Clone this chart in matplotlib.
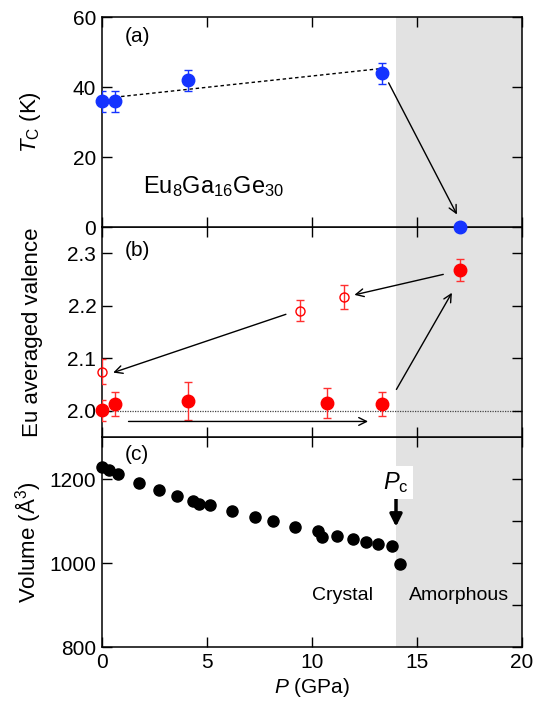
import numpy as np
import matplotlib
matplotlib.use('Agg')
import matplotlib.pyplot as plt
from matplotlib.ticker import FixedLocator, FormatStrFormatter

plt.rcParams['font.family'] = ['Liberation Sans', 'DejaVu Sans']
plt.rcParams['mathtext.fontset'] = 'custom'
plt.rcParams['mathtext.rm'] = 'Liberation Sans'
plt.rcParams['mathtext.it'] = 'Liberation Sans:italic'

# (a) Curie temperature vs pressure
tc_p = [0.0, 0.62, 4.12, 13.32, 17.04]
tc_val = [36, 36, 42, 44, 0]
tc_err = [3, 3, 3, 3, 0]
fit_p = [0.62, 13.32]
fit_tc = [37.1, 45.3]

# (b) Eu averaged valence, filled = compression, open = release
val_p = [0.0, 0.62, 4.12, 10.72, 13.32, 17.04]
val = [2.001, 2.013, 2.019, 2.015, 2.013, 2.268]
val_err = [0.02, 0.023, 0.037, 0.029, 0.023, 0.021]
rel_p = [0.0, 9.41, 11.53]
rel_val = [2.075, 2.191, 2.217]
rel_err = [0.023, 0.02, 0.023]

# (c) unit-cell volume
vol_p = [0.0, 0.34, 0.75, 1.76, 2.71, 3.59, 4.34, 4.61, 5.13, 6.18, 7.27,
         8.15, 9.18, 10.27, 10.48, 11.18, 11.95, 12.57, 13.15, 13.82, 14.18]
vol = [1229, 1223, 1213, 1190, 1174, 1160, 1149, 1141, 1138, 1125, 1110,
       1100, 1087, 1077, 1063, 1065, 1057, 1050, 1045, 1040, 998]

P_C = 14.0
BLUE = '#1433ff'
RED = '#ff0000'
SHADE = '#e2e2e2'

fig = plt.figure(figsize=(5.36, 7.09), dpi=100)
gs = fig.add_gridspec(3, 1, left=0.19, right=0.974, top=0.976, bottom=0.087, hspace=0)
ax_a = fig.add_subplot(gs[0])
ax_b = fig.add_subplot(gs[1], sharex=ax_a)
ax_c = fig.add_subplot(gs[2], sharex=ax_a)
ax_a.set_zorder(3)
ax_b.set_zorder(2)
ax_c.set_zorder(1)

for ax in (ax_a, ax_b, ax_c):
    ax.axvspan(P_C, 20, color=SHADE, lw=0, zorder=0)
    ax.tick_params(direction='in', top=True, right=True, length=7, width=1,
                   labelsize=15, pad=4)
    for s in ax.spines.values():
        s.set_linewidth(1.1)
    ax.yaxis.set_label_coords(-0.14, 0.5)

ax_a.set_xlim(0, 20)
ax_a.set_xticks([0, 5, 10, 15, 20])
ax_a.tick_params(labelbottom=False)
ax_b.tick_params(labelbottom=False)

arrow_thin = dict(arrowstyle='->', lw=1.0, color='k', shrinkA=0, shrinkB=0,
                  mutation_scale=14)

# --- (a)
ax_a.plot(fit_p, fit_tc, color='k', lw=1.0, ls=(0, (2.5, 2)), zorder=2)
eb = ax_a.errorbar(tc_p, tc_val, yerr=tc_err, fmt='o', ms=9, color=BLUE,
                   ecolor=BLUE, elinewidth=1, capsize=3, capthick=1, zorder=3)
eb[0].set_clip_on(False)
ax_a.annotate('', xy=(16.9, 3.6), xytext=(13.65, 41.2), arrowprops=arrow_thin)
ax_a.set_ylim(0, 60)
ax_a.set_yticks([0, 20, 40, 60])
ax_a.set_ylabel(r'$T_\mathrm{C}$ (K)', fontsize=16)
ax_a.text(1.1, 54.4, '(a)', fontsize=15, ha='left', va='center')
ax_a.text(1.97, 11.5, r'Eu$_8$Ga$_{16}$Ge$_{30}$', fontsize=17, ha='left', va='center')

# --- (b)
ax_b.axhline(2.0, color='#444444', lw=0.9, ls=(0, (1, 1)), zorder=1)
eb = ax_b.errorbar(val_p, val, yerr=val_err, fmt='o', ms=9, color=RED,
                   ecolor='#ff3030', elinewidth=1, capsize=3, capthick=1, zorder=3)
eb[0].set_clip_on(False)
eb = ax_b.errorbar(rel_p, rel_val, yerr=rel_err, fmt='o', ms=6.5, mfc='none',
                   mec=RED, mew=1, ecolor='#ff3030', elinewidth=1, capsize=3,
                   capthick=1, zorder=3)
eb[0].set_clip_on(False)
ax_b.annotate('', xy=(0.54, 2.073), xytext=(8.76, 2.184), arrowprops=arrow_thin)
ax_b.annotate('', xy=(12.02, 2.221), xytext=(16.25, 2.26), arrowprops=arrow_thin)
ax_b.annotate('', xy=(16.66, 2.225), xytext=(14.02, 2.041), arrowprops=arrow_thin)
ax_b.annotate('', xy=(12.67, 1.98), xytext=(1.27, 1.98), arrowprops=arrow_thin)
ax_b.set_ylim(1.95, 2.35)
ax_b.set_yticks([2.0, 2.1, 2.2, 2.3])
ax_b.yaxis.set_major_formatter(FormatStrFormatter('%.1f'))
ax_b.set_ylabel('Eu averaged valence', fontsize=16)
ax_b.text(1.1, 2.305, '(b)', fontsize=15, ha='left', va='center')

# --- (c)
ax_c.plot(vol_p, vol, 'o', ms=8, color='k', clip_on=False, zorder=3)
ax_c.annotate('', xy=(P_C, 1087), xytext=(P_C, 1154),
              arrowprops=dict(arrowstyle='-|>', lw=2.5, color='k',
                              mutation_scale=18, shrinkA=0, shrinkB=0))
ax_c.text(14.0, 1192, r'$P_\mathrm{c}$', fontsize=17, ha='center', va='center',
          bbox=dict(fc='white', ec='none', pad=3), zorder=4)
ax_c.text(11.46, 923, 'Crystal', fontsize=14, ha='center', va='center')
ax_c.text(17.0, 923, 'Amorphous', fontsize=14, ha='center', va='center')
ax_c.text(1.1, 1258, '(c)', fontsize=15, ha='left', va='center')
ax_c.set_ylim(800, 1300)
ax_c.set_yticks([800, 1000, 1200])
ax_c.yaxis.set_minor_locator(FixedLocator([900, 1100]))
ax_c.tick_params(which='minor', direction='in', left=False, right=True,
                 length=7, width=1)
ax_c.set_ylabel(r'Volume (Å$^3$)', fontsize=16)
ax_c.set_xlabel(r'$P$ (GPa)', fontsize=15, labelpad=3)

fig.savefig('out.png', dpi=100)
plt.close(fig)
